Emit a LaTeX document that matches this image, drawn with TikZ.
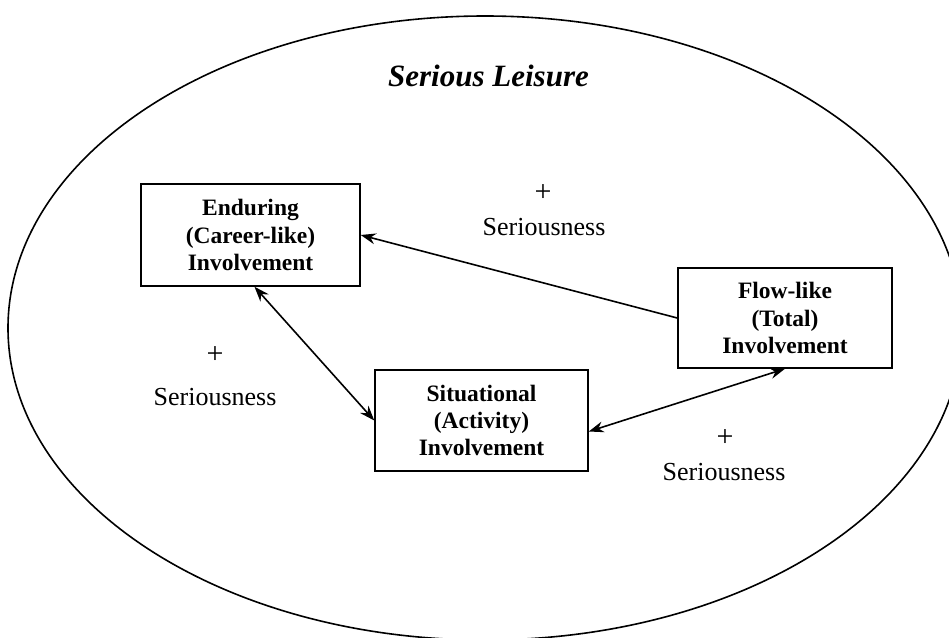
\documentclass[tikz,border=0pt]{standalone}
\usepackage{fontspec}
\setmainfont{Liberation Serif}
\usetikzlibrary{arrows.meta,calc}
\begin{document}
\begin{tikzpicture}[x=1pt,y=-1pt,
  box/.style={draw,line width=1.5pt,align=center,inner sep=0pt,
    font=\fontsize{23.5}{27.4}\selectfont\bfseries},
  lbl/.style={inner sep=0pt,font=\fontsize{26}{30}\selectfont},
  plus/.style={inner sep=0pt,font=\fontsize{30}{30}\selectfont},
  conn/.style={line width=1.6pt},
  tip/.tip={Stealth[length=15pt,width=11pt,inset=5pt]}]
\useasboundingbox (0,0) rectangle (949,637);
\draw[line width=1.6pt] (485,328) ellipse [x radius=477pt, y radius=312pt];
\node[inner sep=0pt,anchor=base,font=\fontsize{31}{36}\selectfont\bfseries\itshape] (title) at (488.5,86.7) {Serious Leisure};
\node[box,minimum width=219pt,minimum height=102pt] (end) at (250.5,235) {Enduring\\(Career-like)\\Involvement};
\node[box,minimum width=213pt,minimum height=101pt] (sit) at (481.5,420.5) {Situational\\(Activity)\\Involvement};
\node[box,minimum width=214pt,minimum height=100pt] (flow) at (785,318) {Flow-like\\(Total)\\Involvement};
\draw[conn,-tip] (flow.west) -- (end.east);
\draw[conn,tip-tip] ([xshift=4pt]end.south) -- (sit.west);
\draw[conn,tip-tip] ([yshift=-11pt]sit.east) -- (flow.south);
\node[plus] (p1) at (543,193) {+};
\node[lbl,anchor=base] (s1) at (544,235) {Seriousness};
\node[plus] (p2) at (215,355) {+};
\node[lbl,anchor=base] (s2) at (215,405) {Seriousness};
\node[plus] (p3) at (725,438) {+};
\node[lbl,anchor=base] (s3) at (724,480) {Seriousness};
\end{tikzpicture}
\end{document}
